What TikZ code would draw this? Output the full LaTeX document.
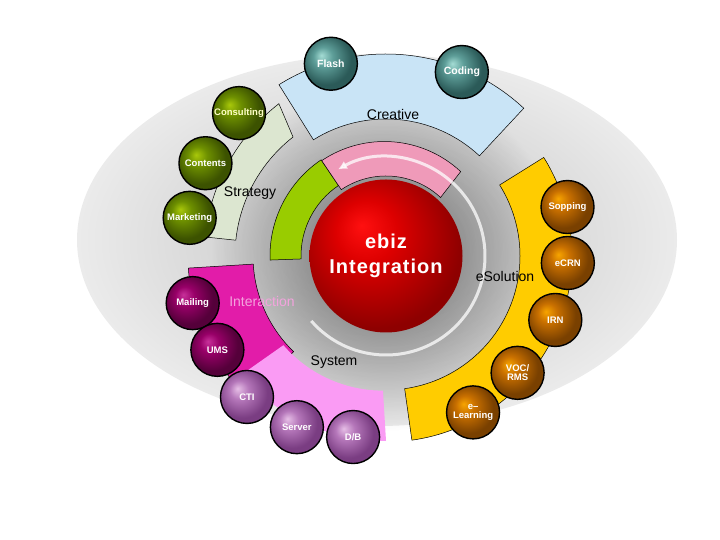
\documentclass[tikz,border=0pt]{standalone}
\usepackage{fontspec}
\setmainfont{Liberation Sans}
\usetikzlibrary{arrows.meta, fadings}

\definecolor{creativeblue}{HTML}{C9E4F6}
\definecolor{strategygreen}{HTML}{DCE6D0}
\definecolor{interactmagenta}{HTML}{E21CA9}
\definecolor{systempink}{HTML}{FA9BF4}
\definecolor{solutiongold}{HTML}{FFCC00}
\definecolor{innergreen}{HTML}{99CC00}
\definecolor{innerpink}{HTML}{EF9AB9}
\definecolor{interacttext}{HTML}{F3A3DD}
\definecolor{consulttext}{HTML}{FFFFC8}

\definecolor{backinner}{HTML}{C6C6C6}
\definecolor{backmid}{HTML}{D8D8D8}
\definecolor{backouter}{HTML}{EBEBEB}
\definecolor{tealhi}{HTML}{A4DCD4}
\definecolor{tealmid}{HTML}{5E9E99}
\definecolor{tealdark}{HTML}{2B5A58}
\definecolor{olivehi}{HTML}{A9C80A}
\definecolor{olivemid}{HTML}{6E9000}
\definecolor{olivedark}{HTML}{3C5200}
\definecolor{plumhi}{HTML}{C8309A}
\definecolor{plummid}{HTML}{980068}
\definecolor{plumdark}{HTML}{55003A}
\definecolor{orchidhi}{HTML}{E6BEE6}
\definecolor{orchidmid}{HTML}{B577BA}
\definecolor{orchiddark}{HTML}{7A3D82}
\definecolor{amberhi}{HTML}{F7A400}
\definecolor{ambermid}{HTML}{C97000}
\definecolor{amberdark}{HTML}{794000}
\definecolor{redhi}{HTML}{FF1010}
\definecolor{redmid}{HTML}{DD0000}
\definecolor{reddark}{HTML}{8E0000}

\pgfdeclareradialshading{backdrop}{\pgfpoint{0bp}{0bp}}{color(0bp)=(backinner); color(14bp)=(backmid); color(25bp)=(backouter); color(50bp)=(backouter)}
\pgfdeclareradialshading{tealball}{\pgfpoint{-9bp}{8bp}}{color(0bp)=(tealhi); color(9bp)=(tealmid); color(24bp)=(tealdark); color(50bp)=(tealdark)}
\pgfdeclareradialshading{oliveball}{\pgfpoint{-9bp}{8bp}}{color(0bp)=(olivehi); color(9bp)=(olivemid); color(24bp)=(olivedark); color(50bp)=(olivedark)}
\pgfdeclareradialshading{plumball}{\pgfpoint{-9bp}{8bp}}{color(0bp)=(plumhi); color(9bp)=(plummid); color(24bp)=(plumdark); color(50bp)=(plumdark)}
\pgfdeclareradialshading{orchidball}{\pgfpoint{-9bp}{8bp}}{color(0bp)=(orchidhi); color(9bp)=(orchidmid); color(24bp)=(orchiddark); color(50bp)=(orchiddark)}
\pgfdeclareradialshading{amberball}{\pgfpoint{-9bp}{8bp}}{color(0bp)=(amberhi); color(9bp)=(ambermid); color(24bp)=(amberdark); color(50bp)=(amberdark)}
\pgfdeclareradialshading{redball}{\pgfpoint{-8bp}{10bp}}{color(0bp)=(redhi); color(10bp)=(redmid); color(28bp)=(reddark); color(50bp)=(reddark)}

\tikzfading[name=glowfade, inner color=transparent!50, outer color=transparent!100]

\begin{document}
\begin{tikzpicture}[
            x=1pt, y=1pt,
            band/.style={draw=black, line width=0.5pt},
            bubble/.style={circle, draw=black, line width=1.4pt, minimum size=53pt, inner sep=0pt,
                align=center, text=white, font=\fontsize{9.5}{9.5}\selectfont\bfseries},
            ringtext/.style={font=\fontsize{14}{14}\selectfont},
        ]
            \useasboundingbox (0,0) rectangle (720,540);
            \shade[shading=backdrop] (377,300) ellipse [x radius=300, y radius=186];

            \begin{scope}[shift={(386,284)}]
            \fill[black, path fading=glowfade] (0,0) circle (175);

            % outer ring
            \draw[band, fill=creativeblue] (47:137) arc (47:122:137) -- (122:202) arc (122:47:202) -- cycle;
            \draw[band, fill=strategygreen] (128:151) arc (128:174:151) -- (174:182) arc (174:128:195) -- cycle;
            \draw[band, fill=interactmagenta] (183.5:133) arc (183.5:226:133) -- (226:198) arc (226:183.5:198) -- cycle;
            \fill[systempink] (221:136) arc (221:270:132) -- (270:185) arc (270:221:192) -- cycle;
            \draw[band, fill=solutiongold] (-82:134) arc (-82:32:134) -- (32:186) arc (32:-82:186) -- cycle;

            % inner ring
            \draw[band, fill=innergreen] (124:85) arc (124:182:85) -- (182:116) arc (182:124:116) -- cycle;
            \draw[band, fill=innerpink] (47:80) arc (47:124:80) -- (124:115) arc (124:47:112) -- cycle;
            \draw[white, opacity=0.75, line width=3pt, -{Latex[length=9pt, width=9pt]}] (221:99) arc (221:479:99);

            \node[circle, minimum size=153pt, inner sep=0pt, shading=redball, align=center, text=white,
                font=\fontsize{20}{25}\selectfont\bfseries\addfontfeatures{LetterSpace=5}] (hub) at (0,0) {ebiz\\Integration};

            \node[ringtext] (creative) at (7,141) {Creative};
            \node[ringtext] (strategy) at (-136,63) {Strategy};
            \node[ringtext, text=interacttext] (interaction) at (-124,-46) {Interaction};
            \node[ringtext] (system) at (-52,-106) {System};
            \node[ringtext] (solution) at (119,-21) {eSolution};

            % bubbles
            \node[bubble, shading=tealball, font=\fontsize{10.5}{10.5}\selectfont\bfseries] (flash) at (106:200) {Flash};
            \node[bubble, shading=tealball, font=\fontsize{10.5}{10.5}\selectfont\bfseries] (coding) at (67.6:199) {Coding};
            \node[bubble, shading=oliveball, text=consulttext] (consulting) at (135.8:205) {Consulting};
            \node[bubble, shading=oliveball] (contents) at (152.8:203) {Contents};
            \node[bubble, shading=oliveball] (marketing) at (169:200) {Marketing};
            \node[bubble, shading=plumball] (mailing) at (193.7:199) {Mailing};
            \node[bubble, shading=plumball] (ums) at (209.1:193) {UMS};
            \node[bubble, shading=orchidball] (cti) at (225.4:198) {CTI};
            \node[bubble, shading=orchidball] (server) at (242.5:193) {Server};
            \node[bubble, shading=orchidball] (db) at (259.7:184) {D/B};
            \node[bubble, shading=amberball] (elearning) at (299.1:179) {e--\\Learning};
            \node[bubble, shading=amberball] (voc) at (318.4:176) {VOC/\\RMS};
            \node[bubble, shading=amberball] (irn) at (339.3:181) {IRN};
            \node[bubble, shading=amberball] (ecrn) at (357.8:182) {eCRN};
            \node[bubble, shading=amberball] (sopping) at (15.1:188) {Sopping};
            \end{scope}
        \end{tikzpicture}
\end{document}
